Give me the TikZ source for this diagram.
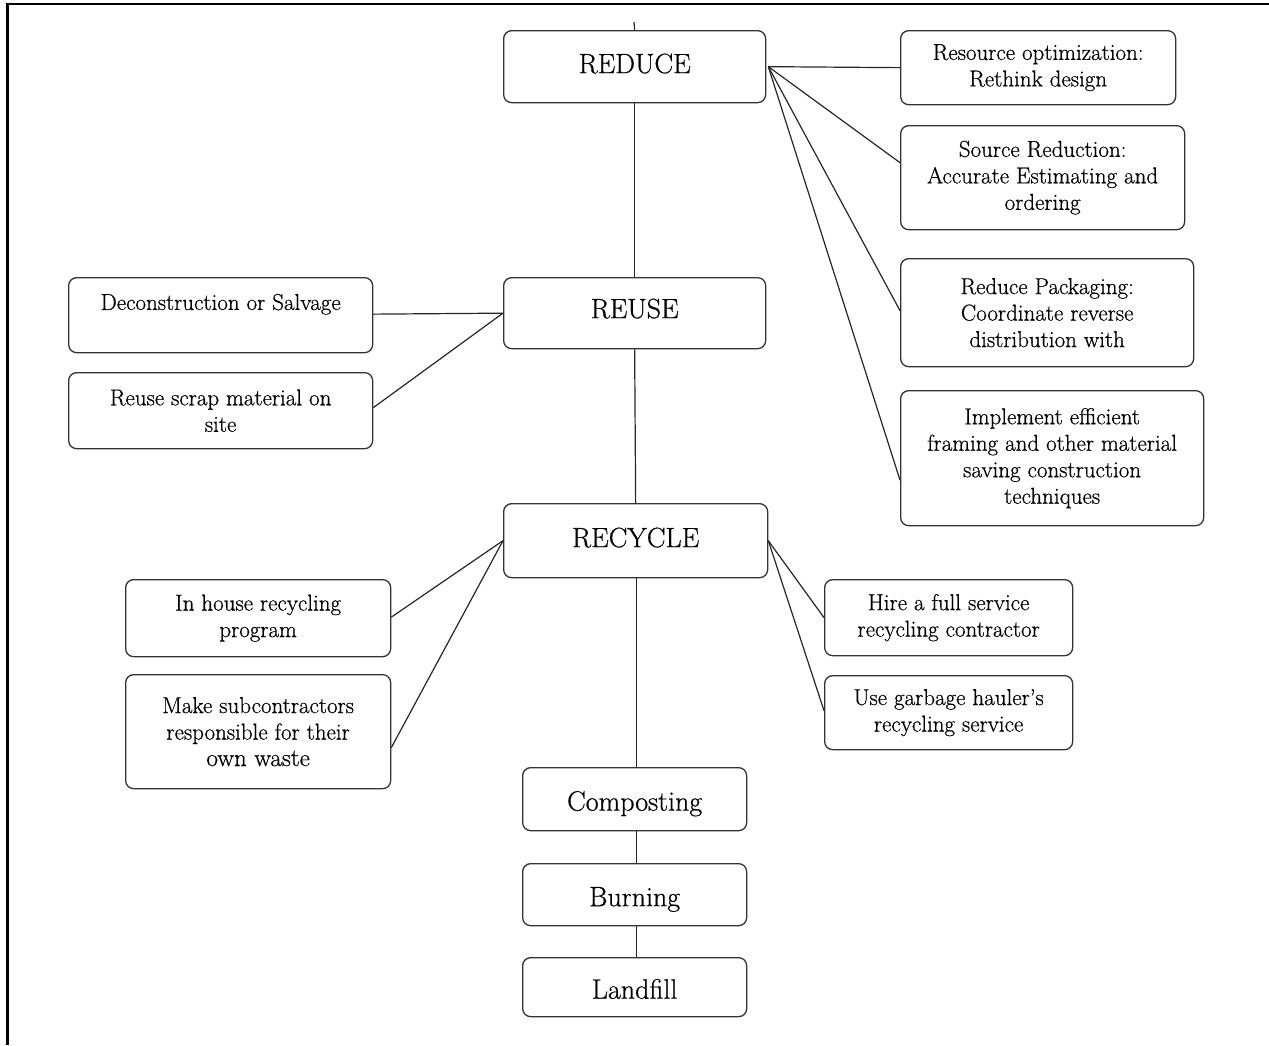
\documentclass[tikz,border=0pt]{standalone}
\usepackage{fontspec}
\setmainfont{Latin Modern Roman}[FakeBold=0.6]
\begin{document}
\begin{tikzpicture}[x=1pt,y=-1pt,
  box/.style={draw=black!80, line width=1.3pt, rounded corners=8pt, inner sep=0pt,
    anchor=north west, align=center, font=\fontsize{23}{26.5}\selectfont},
  mainbox/.style={box, font=\fontsize{28}{32}\selectfont, text height=19pt, text depth=0pt},
  link/.style={draw=black!85, line width=1.2pt}]
\useasboundingbox (0,0) rectangle (1269,1045);
\draw[line width=2.5pt] (7.5,1045) -- (7.5,4) -- (1269,4);

% main column
\node[mainbox, minimum width=262pt, minimum height=72pt] (reduce) at (503,30) {\raisebox{3pt}{REDUCE}};
\node[mainbox, minimum width=262pt, minimum height=71pt] (reuse) at (503,277) {\raisebox{4.5pt}{REUSE}};
\node[mainbox, minimum width=264pt, minimum height=74pt] (recycle) at (503,503) {\raisebox{3pt}{RECYCLE}};
\node[mainbox, minimum width=224pt, minimum height=63pt] (compost) at (522,767) {\raisebox{-2pt}{Composting}};
\node[mainbox, minimum width=224pt, minimum height=62pt] (burn) at (522,863) {\raisebox{-2pt}{Burning}};
\node[mainbox, minimum width=224pt, minimum height=59pt] (landfill) at (522,957) {\raisebox{-2pt}{Landfill}};
\coordinate (top) at (634,22);

% reduce branches
\node[box, minimum width=275pt, minimum height=74pt] (res) at (900,30) {Resource optimization:\\Rethink design};
\node[box, minimum width=284pt, minimum height=104pt] (src) at (900,125) {Source Reduction:\\Accurate Estimating and\\ordering};
\node[box, minimum width=293pt, minimum height=108pt] (pack) at (900,258) {Reduce Packaging:\\Coordinate reverse\\distribution with};
\node[box, minimum width=303pt, minimum height=135pt] (impl) at (900,390) {Implement efficient\\framing and other material\\saving construction\\techniques};

% reuse branches
\node[box, minimum width=304pt, minimum height=75pt] (decon) at (68,277) {Deconstruction or Salvage\\\mbox{}};
\node[box, minimum width=304pt, minimum height=76pt] (scrap) at (68,372) {Reuse scrap material on\\site};

% recycle branches
\node[box, minimum width=265pt, minimum height=77pt] (inhouse) at (125,579) {In house recycling\\program};
\node[box, minimum width=265pt, minimum height=114pt] (subc) at (125,674) {Make subcontractors\\responsible for their\\{\fontsize{25}{26.5}\selectfont own waste}};
\node[box, minimum width=248pt, minimum height=76pt] (hire) at (824,579) {Hire a full service\\recycling contractor};
\node[box, minimum width=248pt, minimum height=74pt] (haul) at (824,675) {Use garbage hauler’s\\recycling service};

% spine
\draw[link] (top) -- (reduce.north);
\draw[link] (reduce.south) -- (reuse.north);
\draw[link] (reuse.south) -- (recycle.north);
\draw[link] ([xshift=1pt]recycle.south) -- ([xshift=2pt]compost.north);
\draw[link] ([xshift=2pt]compost.south) -- ([xshift=2pt]burn.north);
\draw[link] ([xshift=2pt]burn.south) -- ([xshift=2pt]landfill.north);

% reduce connectors
\draw[link] ([xshift=2pt]reduce.east) -- (res.west);
\draw[link] ([xshift=2pt]reduce.east) -- ([yshift=15pt]src.west);
\draw[link] ([xshift=2pt]reduce.east) -- ([yshift=2pt]pack.west);
\draw[link] ([xshift=2pt]reduce.east) -- ([yshift=-22pt]impl.west);

% reuse connectors
\draw[link] (reuse.west) -- ([yshift=1pt]decon.east);
\draw[link] (reuse.west) -- ([yshift=3pt]scrap.east);

% recycle connectors
\draw[link] (recycle.west) -- ([yshift=1pt]inhouse.east);
\draw[link] (recycle.west) -- ([yshift=-16pt]subc.east);
\draw[link] (recycle.east) -- (hire.west);
\draw[link] (recycle.east) -- ([yshift=2pt]haul.west);
\end{tikzpicture}
\end{document}
